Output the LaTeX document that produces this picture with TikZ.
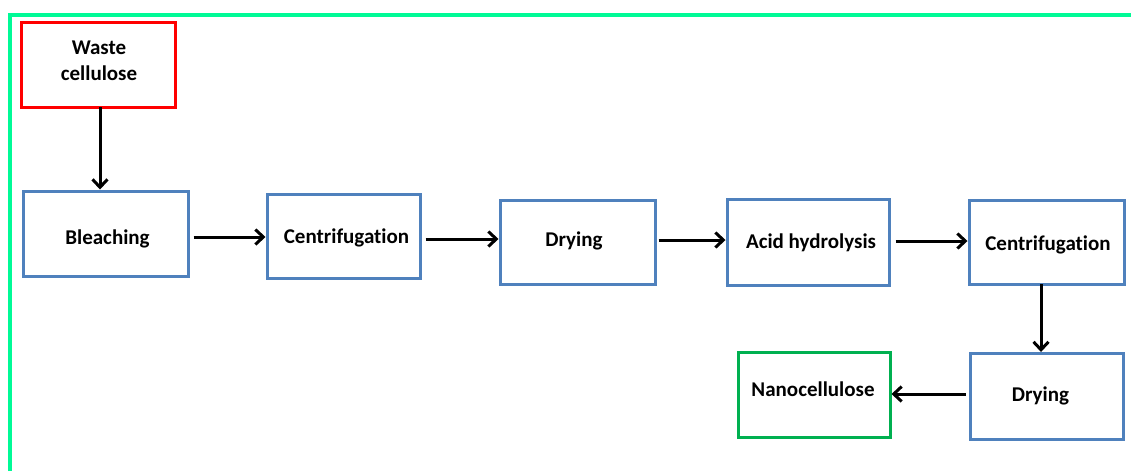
\documentclass[tikz,border=0pt]{standalone}
\usepackage{fontspec}
\setmainfont[Ligatures=NoCommon]{Carlito}
\usetikzlibrary{arrows.meta}
\definecolor{frameg}{RGB}{0,250,150}
\definecolor{boxblue}{RGB}{79,129,189}
\definecolor{boxred}{RGB}{255,0,0}
\definecolor{boxgreen}{RGB}{0,176,80}
\tikzset{
  stepbox/.style={draw=boxblue, line width=3pt, fill=white, inner sep=0pt},
  lab/.style={inner sep=0pt, align=center, anchor=base,
    font=\fontsize{21}{26}\selectfont\bfseries},
  flow/.style={line width=3pt, -{Straight Barb[length=8pt,width=15pt,line width=3pt]}},
}
\begin{document}
\begin{tikzpicture}[x=1pt,y=-1pt]
\useasboundingbox (0,0) rectangle (1131,471);
\draw[frameg, line width=4pt] (10,471) -- (10,15) -- (1131,15);
\node[stepbox, draw=boxred, minimum width=154, minimum height=85] (waste) at (98,64.5) {};
\node[stepbox, minimum width=165, minimum height=85] (bleach) at (105.5,233.5) {};
\node[stepbox, minimum width=153, minimum height=84] (cent1) at (343.5,236) {};
\node[stepbox, minimum width=155, minimum height=84] (dry1) at (577.5,242) {};
\node[stepbox, minimum width=162, minimum height=86] (acid) at (808,242) {};
\node[stepbox, minimum width=155, minimum height=84] (cent2) at (1046.5,242) {};
\node[stepbox, minimum width=153, minimum height=86] (dry2) at (1046.5,396) {};
\node[stepbox, draw=boxgreen, minimum width=152, minimum height=85] (nano) at (814,394.5) {};
\node[lab] (waste-t) at (99,80) {Waste\\cellulose};
\node[lab] (bleach-t) at (107.5,244) {Bleaching};
\node[lab] (cent1-t) at (346.5,243.5) {Centrifugation};
\node[lab] (dry1-t) at (574,246.5) {Drying};
\node[lab] (acid-t) at (811,248) {Acid hydrolysis};
\node[lab] (cent2-t) at (1048,250) {Centrifugation};
\node[lab] (dry2-t) at (1040.5,401.5) {Drying};
\node[lab] (nano-t) at (813,396) {Nanocellulose};
\coordinate (a1) at (100,107);
\draw[flow] (a1) -- (a1 |- bleach.north);
\draw[flow, shorten <=4pt] (bleach.east |- 0,237) -- (cent1.west |- 0,237);
\draw[flow, shorten <=4pt] (cent1.east |- 0,239) -- (dry1.west |- 0,239);
\draw[flow, shorten <=2pt] (dry1.east |- 0,240) -- (acid.west |- 0,240);
\draw[flow, shorten <=5pt] (acid.east |- 0,241) -- (cent2.west |- 0,241);
\coordinate (a2) at (1041,284);
\draw[flow] (a2) -- (1041,352);
\draw[flow, shorten <=3pt] (dry2.west |- 0,394) -- (nano.east |- 0,394);
\end{tikzpicture}
\end{document}
